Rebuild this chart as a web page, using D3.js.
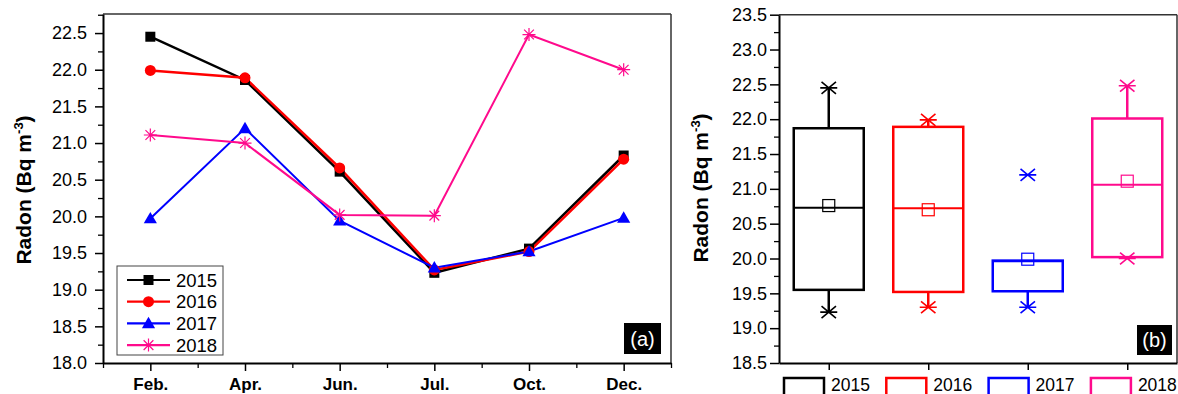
<!DOCTYPE html>
<html>
<head>
<meta charset="utf-8">
<script src="https://cdn.jsdelivr.net/npm/d3@7"></script>
<style>
  body { margin: 0; background: #fff; }
  svg { font-family: "Liberation Sans", Arial, sans-serif; }
</style>
</head>
<body>
<svg id="chart" width="1178" height="394"></svg>
<script>
// data
var months = ["Feb.", "Apr.", "Jun.", "Jul.", "Oct.", "Dec."];
var years = ["2015", "2016", "2017", "2018"];
var r2015 = [22.45, 21.86, 20.61, 19.23, 19.56, 20.83];
var r2016 = [21.99, 21.89, 20.66, 19.27, 19.52, 20.78];
var r2017 = [19.97, 21.2, 19.94, 19.3, 19.52, 19.98];
var r2018 = [21.11, 21.0, 20.02, 20.01, 22.48, 22.0];

// box plot stats (panel b)
var boxQ1 = [19.55, 19.52, 19.53, 20.02];
var boxMedian = [20.73, 20.72, 19.96, 21.06];
var boxQ3 = [21.87, 21.89, 19.97, 22.01];
var boxMean = [20.76, 20.7, 19.99, 21.11];
var whiskerLow = [19.23, 19.3, 19.3, 20.0];
var whiskerHigh = [22.45, 21.99, 19.97, 22.48];
var starLow = [19.23, 19.3, 19.3, 20.0];
var starHigh = [22.45, 21.99, 21.2, 22.48];

var leftTicks = [18, 18.5, 19, 19.5, 20, 20.5, 21, 21.5, 22, 22.5];
var rightTicks = [18.5, 19, 19.5, 20, 20.5, 21, 21.5, 22, 22.5, 23, 23.5];

var colors = ["#000000", "#ff0000", "#0000ff", "#ff0a8c"];
var series = [r2015, r2016, r2017, r2018];

var svg = d3.select("#chart");

// ---------- panel (a) ----------
var xa = d3.scaleLinear().domain([-0.5, 5.5]).range([103, 671]);
var ya = d3.scaleLinear().domain([18, 22.76]).range([363, 14]);

// frame
svg.append("line").attr("x1", 103).attr("x2", 671).attr("y1", ya(22.76)).attr("y2", ya(22.76))
  .attr("stroke", "#333").attr("stroke-width", 1.5);
svg.append("line").attr("x1", 671).attr("x2", 671).attr("y1", ya(22.76)).attr("y2", ya(18))
  .attr("stroke", "#333").attr("stroke-width", 1.5);

// minor y
svg.append("g").attr("transform", "translate(103,0)")
  .call(d3.axisLeft(ya).tickValues(leftTicks.map(d => d + 0.25)).tickSize(5).tickFormat(""))
  .call(g => g.select(".domain").remove())
  .selectAll("line").attr("stroke-width", 1.3);

var yAxisA = svg.append("g").attr("transform", "translate(103,0)")
  .call(d3.axisLeft(ya).tickValues(leftTicks).tickSize(8).tickPadding(8).tickFormat(d3.format(".1f")).tickSizeOuter(0));
yAxisA.select(".domain").attr("stroke-width", 2);
yAxisA.selectAll("line").attr("stroke-width", 1.5);
yAxisA.selectAll("text").attr("font-size", 18).attr("fill", "#000").attr("font-family", "Liberation Sans, Arial");

// minor x
svg.append("g").attr("transform", "translate(0,363)")
  .call(d3.axisBottom(xa).tickValues(d3.range(-0.5, 5.6, 1)).tickSize(5).tickFormat(""))
  .call(g => g.select(".domain").remove())
  .selectAll("line").attr("stroke-width", 1.3);

var xAxisA = svg.append("g").attr("transform", "translate(0,363)")
  .call(d3.axisBottom(xa).tickValues(d3.range(6)).tickSize(8).tickPadding(7)
    .tickFormat(i => months[i]).tickSizeOuter(0));
xAxisA.select(".domain").attr("stroke-width", 2);
xAxisA.selectAll("line").attr("stroke-width", 1.5);
xAxisA.selectAll("text").attr("font-size", 17).attr("font-weight", "bold").attr("fill", "#000")
  .attr("font-family", "Liberation Sans, Arial");

// y title
function yTitle(x, y) {
  var t = svg.append("text").attr("transform", `translate(${x},${y}) rotate(-90)`)
    .attr("text-anchor", "middle").attr("font-size", 21).attr("font-weight", "bold");
  t.append("tspan").text("Radon (Bq m");
  t.append("tspan").attr("font-size", 13).attr("dy", -8).text("-3");
  t.append("tspan").attr("dy", 8).text(")");
}
yTitle(31, 190);

// markers
function starPath(s) {
  return `M${-s},0L${s},0M0,${-s}L0,${s}M${-s * 0.75},${-s * 0.75}L${s * 0.75},${s * 0.75}M${-s * 0.75},${s * 0.75}L${s * 0.75},${-s * 0.75}`;
}
function drawMarker(g, k, x, y) {
  if (k == 0) {
    g.append("rect").attr("x", x - 5).attr("y", y - 5).attr("width", 10).attr("height", 10).attr("fill", colors[0]);
  } else if (k == 1) {
    g.append("circle").attr("cx", x).attr("cy", y).attr("r", 5.5).attr("fill", colors[1]);
  } else if (k == 2) {
    g.append("path").attr("d", d3.symbol(d3.symbolTriangle, 75)()).attr("transform", `translate(${x},${y + 1})`)
      .attr("fill", colors[2]);
  } else {
    g.append("path").attr("d", starPath(6.5)).attr("transform", `translate(${x},${y})`)
      .attr("stroke", colors[3]).attr("stroke-width", 1.2).attr("fill", "none");
  }
}

var line = d3.line().x((d, i) => xa(i)).y(d => ya(d));
series.forEach((s, k) => {
  svg.append("path").datum(s).attr("d", line).attr("fill", "none")
    .attr("stroke", colors[k]).attr("stroke-width", k < 2 ? 2.5 : 2);
});
series.forEach((s, k) => {
  var g = svg.append("g");
  s.forEach((v, i) => drawMarker(g, k, xa(i), ya(v)));
});

// legend (a)
svg.append("rect").attr("x", 117).attr("y", 266).attr("width", 106).attr("height", 89)
  .attr("fill", "#fff").attr("stroke", "#444").attr("stroke-width", 1);
years.forEach((yr, k) => {
  var ly = 280 + k * 21.7;
  svg.append("line").attr("x1", 127).attr("x2", 170).attr("y1", ly).attr("y2", ly)
    .attr("stroke", colors[k]).attr("stroke-width", 2.2);
  drawMarker(svg, k, 148.5, ly);
  svg.append("text").attr("x", 176).attr("y", ly + 6.5).attr("font-size", 18.5).text(yr);
});

// (a) tag
svg.append("rect").attr("x", 624).attr("y", 323).attr("width", 37).attr("height", 31).attr("fill", "#000");
svg.append("text").attr("x", 642.5).attr("y", 346).attr("text-anchor", "middle").attr("fill", "#fff")
  .attr("font-size", 20).text("(a)");

// ---------- panel (b) ----------
var xb = d3.scaleLinear().domain([-0.5, 3.5]).range([779, 1177]);
var yb = d3.scaleLinear().domain([18.5, 23.5]).range([363, 14.7]);

svg.append("line").attr("x1", 779).attr("x2", 1177).attr("y1", yb(23.5)).attr("y2", yb(23.5))
  .attr("stroke", "#333").attr("stroke-width", 1.5);
svg.append("line").attr("x1", 1177).attr("x2", 1177).attr("y1", yb(23.5)).attr("y2", yb(18.5))
  .attr("stroke", "#333").attr("stroke-width", 1.5);

svg.append("g").attr("transform", "translate(779,0)")
  .call(d3.axisLeft(yb).tickValues(rightTicks.slice(0, -1).map(d => d + 0.25)).tickSize(5).tickFormat(""))
  .call(g => g.select(".domain").remove())
  .selectAll("line").attr("stroke-width", 1.3);

var yAxisB = svg.append("g").attr("transform", "translate(779,0)")
  .call(d3.axisLeft(yb).tickValues(rightTicks).tickSize(9).tickPadding(3).tickFormat(d3.format(".1f")).tickSizeOuter(0));
yAxisB.select(".domain").attr("stroke-width", 2);
yAxisB.selectAll("line").attr("stroke-width", 1.5);
yAxisB.selectAll("text").attr("font-size", 18).attr("fill", "#000").attr("font-family", "Liberation Sans, Arial");

var xAxisB = svg.append("g").attr("transform", "translate(0,363)")
  .call(d3.axisBottom(xb).tickValues(d3.range(4)).tickSize(7).tickFormat("").tickSizeOuter(0));
xAxisB.select(".domain").attr("stroke-width", 2);
xAxisB.selectAll("line").attr("stroke-width", 1.5);

yTitle(708, 188);

function boxStar(s) {
  return `M${-s},0L${s},0M${-s * 0.85},${-s * 0.7}L${s * 0.85},${s * 0.7}M${-s * 0.85},${s * 0.7}L${s * 0.85},${-s * 0.7}`;
}

var bw = 70;
years.forEach((yr, k) => {
  var cx = xb(k);
  var c = colors[k];
  var g = svg.append("g").attr("stroke", c).attr("fill", "none");
  // whiskers
  g.append("line").attr("x1", cx).attr("x2", cx).attr("y1", yb(boxQ3[k])).attr("y2", yb(whiskerHigh[k]))
    .attr("stroke-width", 2.5);
  g.append("line").attr("x1", cx).attr("x2", cx).attr("y1", yb(boxQ1[k])).attr("y2", yb(whiskerLow[k]))
    .attr("stroke-width", 2.5);
  g.append("rect").attr("x", cx - bw / 2).attr("y", yb(boxQ3[k])).attr("width", bw)
    .attr("height", yb(boxQ1[k]) - yb(boxQ3[k])).attr("fill", "#fff").attr("stroke-width", 2.5);
  g.append("line").attr("x1", cx - bw / 2).attr("x2", cx + bw / 2).attr("y1", yb(boxMedian[k])).attr("y2", yb(boxMedian[k]))
    .attr("stroke-width", 2);
  g.append("rect").attr("x", cx - 6).attr("y", yb(boxMean[k]) - 6).attr("width", 12).attr("height", 12)
    .attr("stroke-width", 1.2);
  [starHigh[k], starLow[k]].forEach(v => {
    g.append("path").attr("d", boxStar(8.5)).attr("transform", `translate(${cx},${yb(v)})`)
      .attr("stroke-width", 1.6);
  });
});

// legend (b)
years.forEach((yr, k) => {
  var lx = 784 + k * 102.3;
  svg.append("rect").attr("x", lx).attr("y", 378).attr("width", 40).attr("height", 30)
    .attr("fill", "none").attr("stroke", colors[k]).attr("stroke-width", 2.5);
  svg.append("text").attr("x", lx + 47).attr("y", 391).attr("font-size", 17.5).text(yr);
});

// (b) tag
svg.append("rect").attr("x", 1137).attr("y", 325).attr("width", 35).attr("height", 30).attr("fill", "#000");
svg.append("text").attr("x", 1154.5).attr("y", 347).attr("text-anchor", "middle").attr("fill", "#fff")
  .attr("font-size", 20).text("(b)");
</script>
</body>
</html>
